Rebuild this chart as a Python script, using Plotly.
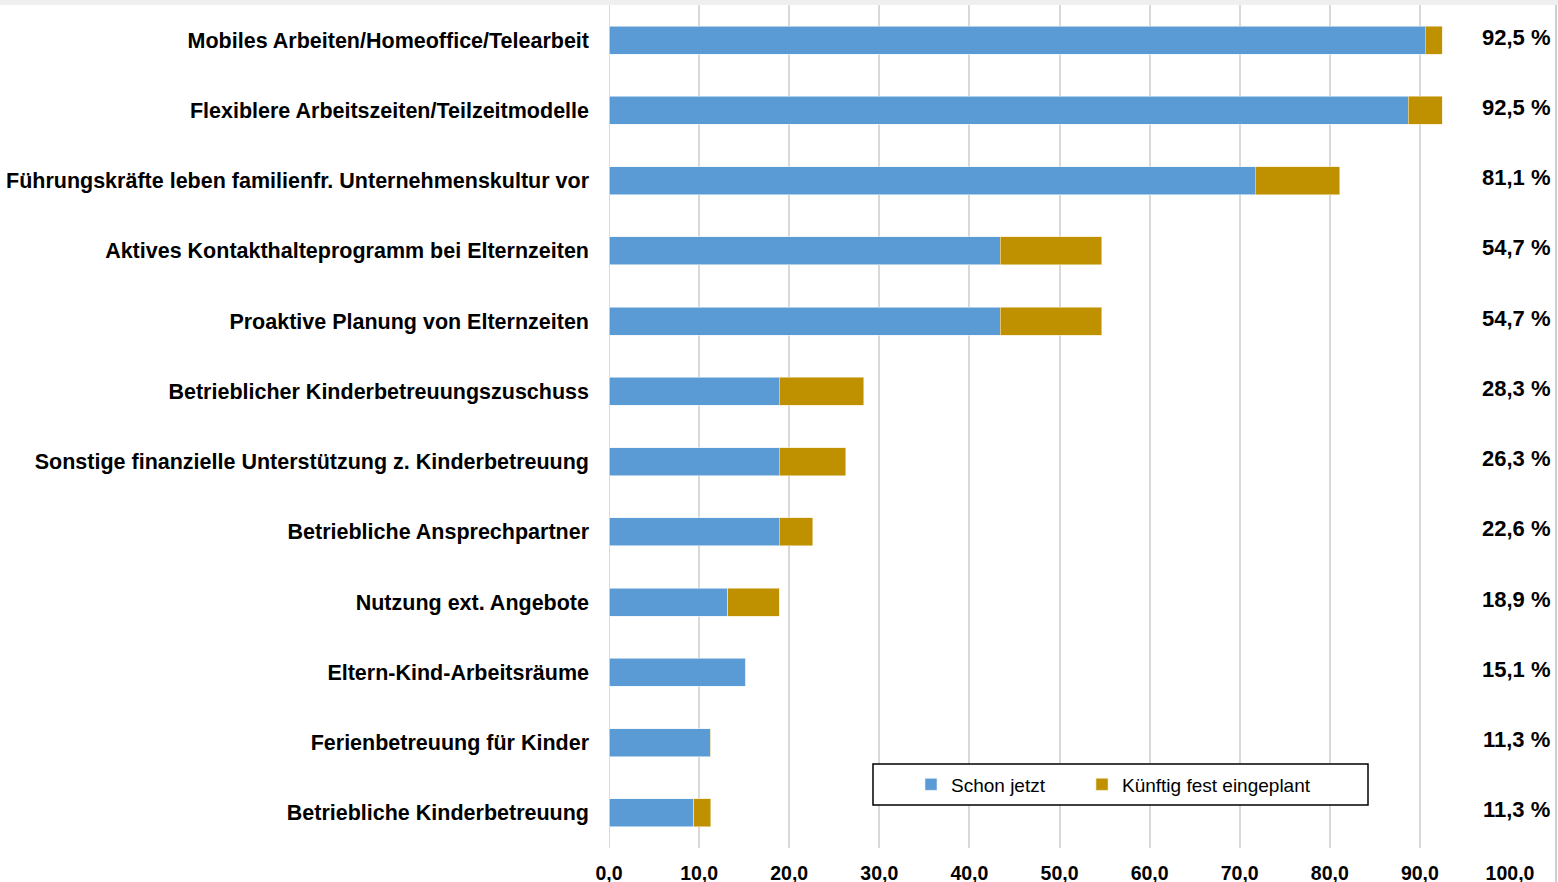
import plotly.graph_objects as go

categories = [
    "Mobiles Arbeiten/Homeoffice/Telearbeit",
    "Flexiblere Arbeitszeiten/Teilzeitmodelle",
    "Führungskräfte leben familienfr. Unternehmenskultur vor",
    "Aktives Kontakthalteprogramm bei Elternzeiten",
    "Proaktive Planung von Elternzeiten",
    "Betrieblicher Kinderbetreuungszuschuss",
    "Sonstige finanzielle Unterstützung z. Kinderbetreuung",
    "Betriebliche Ansprechpartner",
    "Nutzung ext. Angebote",
    "Eltern-Kind-Arbeitsräume",
    "Ferienbetreuung für Kinder",
    "Betriebliche Kinderbetreuung",
]
schon_jetzt = [90.6, 88.7, 71.7, 43.4, 43.4, 18.9, 18.9, 18.9, 13.2, 15.1, 11.3, 9.4]
kuenftig = [1.9, 3.8, 9.4, 11.3, 11.3, 9.4, 7.4, 3.7, 5.7, 0.0, 0.0, 1.9]
total_labels = ["92,5 %", "92,5 %", "81,1 %", "54,7 %", "54,7 %", "28,3 %",
                "26,3 %", "22,6 %", "18,9 %", "15,1 %", "11,3 %", "11,3 %"]
x_ticks = [0, 10, 20, 30, 40, 50, 60, 70, 80, 90, 100]

W, H = 1558, 882
L, R, T, B = 609, 48, 5, 34
pw = W - L - R
ph = H - T - B

FONT = "Liberation Sans, Arial, sans-serif"

fig = go.Figure()
fig.add_trace(go.Bar(
    y=categories, x=schon_jetzt, orientation="h", name="Schon jetzt",
    marker=dict(color="#5B9BD5", line=dict(color="#EAF1F8", width=0.6)),
    width=0.4, legend="legend",
))
fig.add_trace(go.Bar(
    y=categories, x=kuenftig, orientation="h", name="Künftig fest eingeplant",
    marker=dict(color="#BF9000", line=dict(color="#F3E6C0", width=0.6)),
    width=0.4, legend="legend2",
))

for cat, lab in zip(categories, total_labels):
    fig.add_annotation(
        x=(1516 - L) / pw, xref="paper", y=cat, yref="y",
        text=f"<b>{lab}</b>", showarrow=False, xanchor="center", yanchor="middle",
        yshift=3, font=dict(family=FONT, size=22, color="#000000"),
    )

shapes = [
    # top grey band of the page
    dict(type="rect", xref="paper", yref="paper",
         x0=-L / pw, x1=(W - L) / pw, y0=1.0, y1=1 + T / ph,
         fillcolor="#EFEFEF", line=dict(width=0), layer="below"),
    # right page edge line
    dict(type="line", xref="paper", yref="paper",
         x0=(1556 - L) / pw, x1=(1556 - L) / pw, y0=-B / ph, y1=1.0,
         line=dict(color="#D0D0D0", width=2)),
    # legend box
    dict(type="rect", xref="paper", yref="paper",
         x0=(873 - L) / pw, x1=(1368 - L) / pw,
         y0=(H - B - 805) / ph, y1=(H - B - 764) / ph,
         fillcolor="white", line=dict(color="#000000", width=1.5), layer="above"),
    # grey vertical line at x=0
    dict(type="line", xref="x", yref="paper", x0=0, x1=0, y0=0, y1=1,
         line=dict(color="#D9D9D9", width=2), layer="below"),
]

legend_common = dict(
    orientation="h", xanchor="left",
    y=(H - B - 784.5) / ph, yanchor="middle",
    bgcolor="rgba(0,0,0,0)", borderwidth=0,
    font=dict(family=FONT, size=19, color="#000000"),
)

fig.update_layout(
    width=W, height=H,
    margin=dict(l=L, r=R, t=T, b=B, autoexpand=False),
    barmode="stack",
    paper_bgcolor="white", plot_bgcolor="white",
    separators=",.",
    font=dict(family=FONT, color="#000000"),
    shapes=shapes,
    showlegend=True,
    legend=dict(x=(911 - L) / pw, **legend_common),
    legend2=dict(x=(1082 - L) / pw, **legend_common),
    xaxis=dict(
        range=[0, 100], tickvals=x_ticks, tickformat=".1f",
        showgrid=True, gridcolor="#D9D9D9", gridwidth=2,
        zeroline=False, showline=False, ticks="",
        ticklabelstandoff=11, automargin=False,
        tickfont=dict(family=FONT, size=19.5, color="#000000", weight="bold"),
        fixedrange=True,
    ),
    yaxis=dict(
        categoryorder="array", categoryarray=categories, autorange="reversed",
        showgrid=False, zeroline=False, showline=False, ticks="",
        ticklabelstandoff=19, automargin=False,
        tickfont=dict(family=FONT, size=21.5, color="#000000", weight="bold"),
        fixedrange=True,
    ),
)

fig.write_html(
    "out.html",
    config={"displayModeBar": False},
    post_script="document.body.style.margin='0px';document.body.style.overflow='hidden';",
)
